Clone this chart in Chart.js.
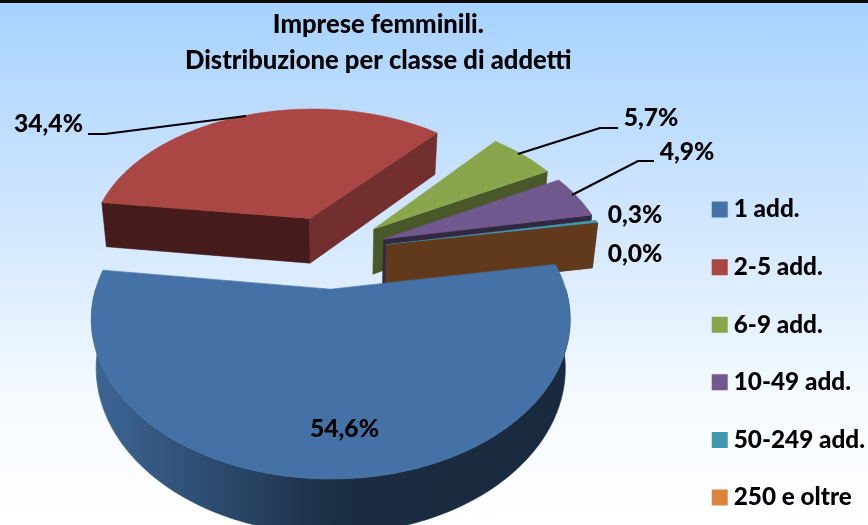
<!DOCTYPE html>
<html><head><meta charset="utf-8">
<script src="https://cdn.jsdelivr.net/npm/chart.js@4"></script>
<style>
html,body{margin:0;padding:0;width:868px;height:525px;overflow:hidden;background:linear-gradient(#a6d2ff 0,#cce4ff 190px,#e0efff 300px,#f5faff 400px,#fff 525px)}
#bar{position:absolute;left:0;top:0;width:868px;height:3px;background:#0a0a0a}
canvas{position:absolute;left:0;top:0}
</style></head><body>
<canvas id="c" width="868" height="525"></canvas><div id="bar"></div>
<script>
const categories = ['1 add.','2-5 add.','6-9 add.','10-49 add.','50-249 add.','250 e oltre'];
const shares = [54.6,34.4,5.7,4.9,0.3,0.0];
const sliceColors = ['#4471a6','#aa4643','#8aa64d','#71588f','#4198af','#db843d'];
const titleLines = ['Imprese femminili.','Distribuzione per classe di addetti'];
const labelAnchors = [[344.5,429],[48.5,124],[651,118],[687,152],[635,215],[635,254]];
const leaderLines = [null,[[88,134],[105,134],[246,116]],[[618,128],[600,128],[518,154]],[[654,161],[638,161],[572,195]],null,null];
const FONT = 'Lato, "Open Sans", sans-serif';
const WEIGHT = 900;
// perspective view of the pie disc
const VIEW = {cx:329.5,cy:251,rx:224,ry:139.8,dist:5.54,depth:46,shrink:0.98};
const EXPLODE = 0.26, START_DEG = 80.5;

function proj(a,off,mid,low,r){
  r = r===undefined?1:r;
  const X=r*Math.cos(a)+off*Math.cos(mid), Y=r*Math.sin(a)+off*Math.sin(mid);
  const s=VIEW.dist/(VIEW.dist-Y), k=low?VIEW.shrink:1;
  return [VIEW.cx+VIEW.rx*X*s*k, VIEW.cy+VIEW.ry*Y*s*k+(low?VIEW.depth*s:0)];
}
function shade(hex,f){
  const n=parseInt(hex.slice(1),16);
  return `rgb(${(n>>16)*f|0},${((n>>8)&255)*f|0},${(n&255)*f|0})`;
}
function poly(ctx,pts,fill){
  ctx.beginPath();pts.forEach((p,i)=>i?ctx.lineTo(p[0],p[1]):ctx.moveTo(p[0],p[1]));
  ctx.closePath();ctx.fillStyle=fill;ctx.fill();ctx.strokeStyle=fill;ctx.lineWidth=0.6;ctx.stroke();
}
function arcPts(a0,a1,off,mid,low){
  const n=Math.max(1,Math.ceil(Math.abs(a1-a0)/0.015)),o=[];
  for(let i=0;i<=n;i++)o.push(proj(a0+(a1-a0)*i/n,off,mid,low));
  return o;
}
function drawSlice3D(ctx,el,color){
  const off=EXPLODE,a0=el.startAngle,a1=el.endAngle,mid=(a0+a1)/2;
  const v=proj(0,off,mid,false,0),vl=proj(0,off,mid,true,0);
  const radial=(a,normal)=>{
    if(Math.sin(normal)<=0)return;
    let d=normal*180/Math.PI;d=((d%360)+360)%360;
    const x=Math.abs(98-d);
    const f=Math.min(.9,.41+.0008*x+.00007*x*x);
    poly(ctx,[v,proj(a,off,mid,false),proj(a,off,mid,true),vl],shade(color,f));
  };
  radial(a0,a0-Math.PI/2);
  radial(a1,a1+Math.PI/2);
  const tw=2*Math.PI;
  const fl=Math.ceil(a0/tw-1e-9)*tw;
  const lo=Math.max(a0,fl),hi=Math.min(a1,fl+Math.PI);
  if(hi>lo){
    const top=arcPts(lo,hi,off,mid,false),bot=arcPts(lo,hi,off,mid,true).reverse();
    const g=ctx.createLinearGradient(VIEW.cx-VIEW.rx,0,VIEW.cx+VIEW.rx,0);
    g.addColorStop(0,shade(color,.88));g.addColorStop(.25,shade(color,.66));
    g.addColorStop(.52,shade(color,.4));g.addColorStop(1,shade(color,.38));
    poly(ctx,top.concat(bot),g);
  }
  if(a1>a0) poly(ctx,[v].concat(arcPts(a0,a1,off,mid,false)),color);
}
const pie3D={
  id:'pie3D',
  beforeDatasetsDraw(chart){
    const ctx=chart.ctx,meta=chart.getDatasetMeta(0),cols=chart.data.datasets[0].backgroundColor;
    ctx.save();
    [1,2,3,4,5,0].forEach(i=>drawSlice3D(ctx,meta.data[i],cols[i]));
    ctx.restore();
    return false;
  },
  afterDraw(chart){
    const ctx=chart.ctx;
    ctx.save();
    ctx.font=WEIGHT+' 24.6px '+FONT;ctx.fillStyle='#000';ctx.textAlign='center';ctx.textBaseline='middle';
    shares.forEach((v,i)=>{
      ctx.fillText(v.toFixed(1).replace('.',',')+'%',labelAnchors[i][0],labelAnchors[i][1]);
      const l=leaderLines[i];
      if(l){ctx.beginPath();l.forEach((p,j)=>j?ctx.lineTo(p[0],p[1]):ctx.moveTo(p[0],p[1]));
        ctx.lineWidth=2.2;ctx.strokeStyle='#000';ctx.stroke();}
    });
    ctx.restore();
  }
};
new Chart(document.getElementById('c'),{
  type:'pie',
  data:{labels:categories,datasets:[{data:shares,backgroundColor:sliceColors,borderWidth:0}]},
  plugins:[pie3D],
  options:{
    responsive:false,animation:false,rotation:START_DEG,
    layout:{padding:{left:72,right:-7,bottom:-18,top:0}},
    plugins:{
      tooltip:{enabled:false},
      title:{display:true,fullSize:false,text:titleLines,color:'#000',font:{family:FONT,weight:WEIGHT,size:25.6,lineHeight:1.41},padding:{top:7,bottom:0}},
      legend:{position:'right',align:'end',
        labels:{font:{family:FONT,weight:WEIGHT,size:24.3},color:'#000',boxWidth:3.7,boxHeight:3.7,padding:33.3,
          generateLabels:()=>categories.map((t,i)=>({text:t,fillStyle:sliceColors[i],strokeStyle:sliceColors[i],lineWidth:12.3,fontColor:'#000',index:i}))}}
    }
  }
});
</script></body></html>
